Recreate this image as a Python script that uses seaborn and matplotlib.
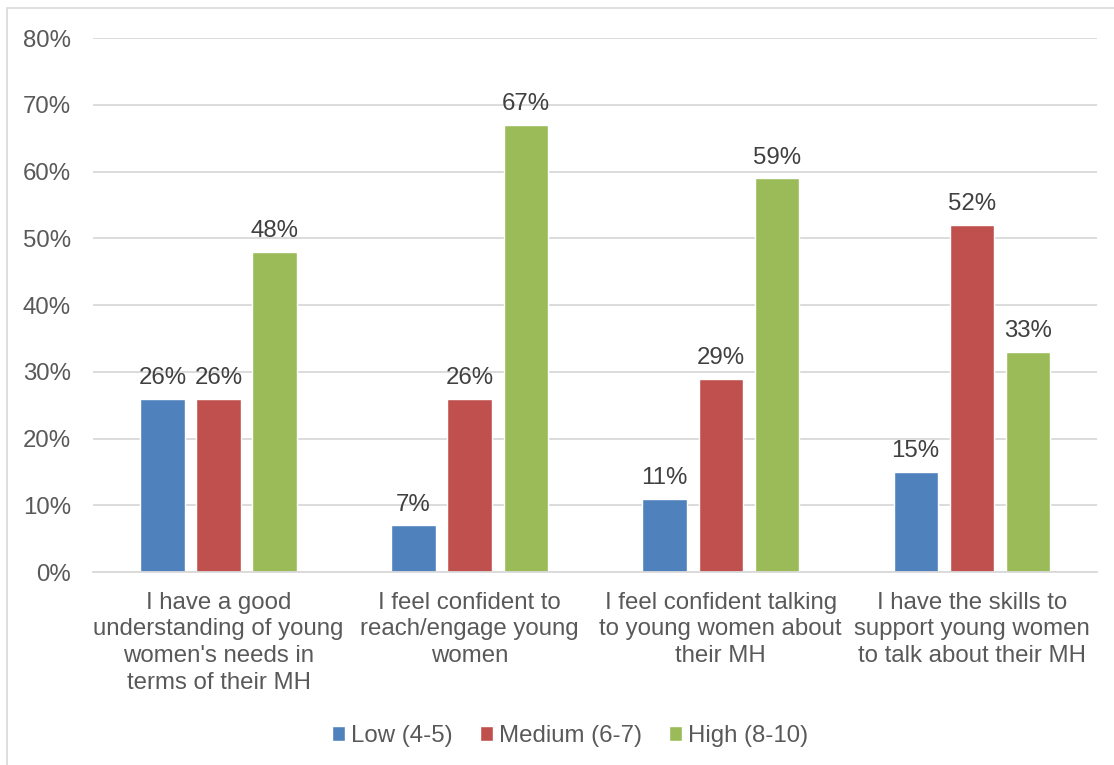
import matplotlib
matplotlib.use("Agg")
import matplotlib.pyplot as plt
from matplotlib.patches import Rectangle
import seaborn as sns
import pandas as pd

categories = [
    "I have a good\nunderstanding of young\nwomen's needs in\nterms of their MH",
    "I feel confident to\nreach/engage young\nwomen",
    "I feel confident talking\nto young women about\ntheir MH",
    "I have the skills to\nsupport young women\nto talk about their MH",
]
series_names = ["Low (4-5)", "Medium (6-7)", "High (8-10)"]
low = [26, 7, 11, 15]
medium = [26, 26, 29, 52]
high = [48, 67, 59, 33]
y_ticks = [0, 10, 20, 30, 40, 50, 60, 70, 80]

colors = ["#4F81BD", "#C0504D", "#9BBB59"]
text_color = "#595959"
grid_color = "#D9D9D9"
fs = 17.3

rows = []
for name, vals in zip(series_names, [low, medium, high]):
    for cat, v in zip(categories, vals):
        rows.append({"category": cat, "level": name, "value": v})
df = pd.DataFrame(rows)

sns.set_theme(style="white")
plt.rcParams["font.family"] = ["Liberation Sans", "DejaVu Sans"]

fig = plt.figure(figsize=(11.14, 7.65), dpi=100)
ax = fig.add_axes([0.0835, 0.252, 0.9015, 0.698])

sns.barplot(
    data=df, x="category", y="value", hue="level",
    order=categories, hue_order=series_names,
    palette=colors, width=0.67, gap=0.21, saturation=1,
    errorbar=None, ax=ax, legend=True,
)

for container in ax.containers:
    ax.bar_label(container, labels=[f"{int(round(b.get_height()))}%" for b in container],
                 padding=7, fontsize=fs, color="#404040")

ax.set_ylim(0, 80)
ax.set_yticks(y_ticks)
ax.set_yticklabels([f"{t}%" for t in y_ticks])
ax.set_xlim(-0.5, len(categories) - 0.5)
ax.yaxis.grid(True, color=grid_color, linewidth=1.3)
ax.set_axisbelow(True)
for s in ["top", "right", "left"]:
    ax.spines[s].set_visible(False)
ax.spines["bottom"].set_color(grid_color)
ax.spines["bottom"].set_linewidth(1.3)
ax.tick_params(axis="y", length=0, pad=16, labelsize=fs, labelcolor=text_color)
ax.tick_params(axis="x", length=0, pad=14, labelsize=fs, labelcolor=text_color)
for lbl in ax.get_xticklabels():
    lbl.set_linespacing(1.28)
ax.set_xlabel("")
ax.set_ylabel("")

handles, labels = ax.get_legend_handles_labels()
ax.legend_.remove()
fig.legend(handles, labels, loc="center", bbox_to_anchor=(0.512, 0.038), ncol=3,
           frameon=False, fontsize=fs, labelcolor=text_color,
           handlelength=0.55, handleheight=0.55, handletextpad=0.25, columnspacing=1.12)

# outer chart frame
fig.patches.append(Rectangle((7 / 1114, -0.1), 1.2, (765 - 8) / 765 + 0.1,
                             transform=fig.transFigure, fill=False,
                             edgecolor="#D9D9D9", linewidth=1.2))

fig.savefig("out.png", dpi=100)
